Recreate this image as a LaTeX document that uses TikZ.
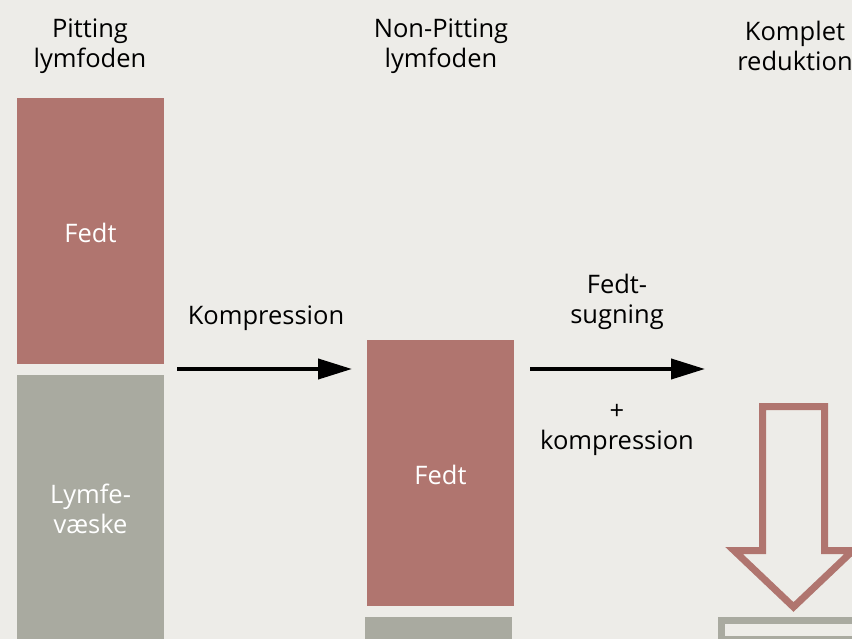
\documentclass[tikz,border=0pt]{standalone}
\usepackage{fontspec}
\setmainfont{Open Sans}
\usetikzlibrary{arrows.meta}
\definecolor{bg}{HTML}{EDECE8}
\definecolor{fat}{HTML}{B0756F}
\definecolor{lym}{HTML}{A9AAA0}
\begin{document}
\begin{tikzpicture}[x=1pt,y=-1pt,
  title/.style={align=center,font=\fontsize{25.5}{30}\selectfont,text=black,inner sep=0pt},
  lbl/.style={align=center,font=\fontsize{25.5}{30}\selectfont,text=black,inner sep=0pt},
  inbar/.style={align=center,font=\fontsize{25.5}{30}\selectfont,text=white,inner sep=0pt},
  fatbar/.style={fill=fat,draw=none},
  lymbar/.style={fill=lym,draw=none},
  flow/.style={line width=4pt,-{Triangle[length=34pt,width=20pt]}}]
\useasboundingbox (0,0) rectangle (852,639);
\clip (0,0) rectangle (852,639);
\fill[bg] (0,0) rectangle (852,639);
% titles
\node[title] (t1) at (90,46) {Pitting\\lymfoden};
\node[title] (t2) at (441,46) {Non-Pitting\\lymfoden};
\node[title] (t3) at (795,46) {Komplet\\reduktion};
% left column
\path[fatbar] (17,98) rectangle (164,364);
\path[lymbar] (17,375) rectangle (164,645);
\node[inbar] (f1) at (90.5,233) {Fedt};
\node[inbar] (l1) at (90.5,509) {Lymfe-\\væske};
% middle column
\path[fatbar] (367,340) rectangle (514,606);
\path[lymbar] (365,617) rectangle (512,645);
\node[inbar] (f2) at (440.5,475) {Fedt};
% arrows
\coordinate (a1s) at (177,369);
\coordinate (a1e) at (352,369);
\coordinate (a2s) at (530,369);
\coordinate (a2e) at (705,369);
\draw[flow] (a1s) -- (a1e);
\draw[flow] (a2s) -- (a2e);
\node[lbl] (k1) at (266,318) {Kompression};
\node[lbl] (fs) at (617,302) {Fedt-\\sugning};
\node[lbl] (pk) at (617,430) {+\\kompression};
% reduction arrow
\draw[fat,line width=7pt,line join=miter]
  (762.5,406.5) -- (824.5,406.5) -- (824.5,550.5) -- (853,550.5) -- (793.5,607)
  -- (734,550.5) -- (762.5,550.5) -- cycle;
\draw[lym,line width=7.5pt] (721.5,620.5) rectangle (880,640);
\end{tikzpicture}
\end{document}
